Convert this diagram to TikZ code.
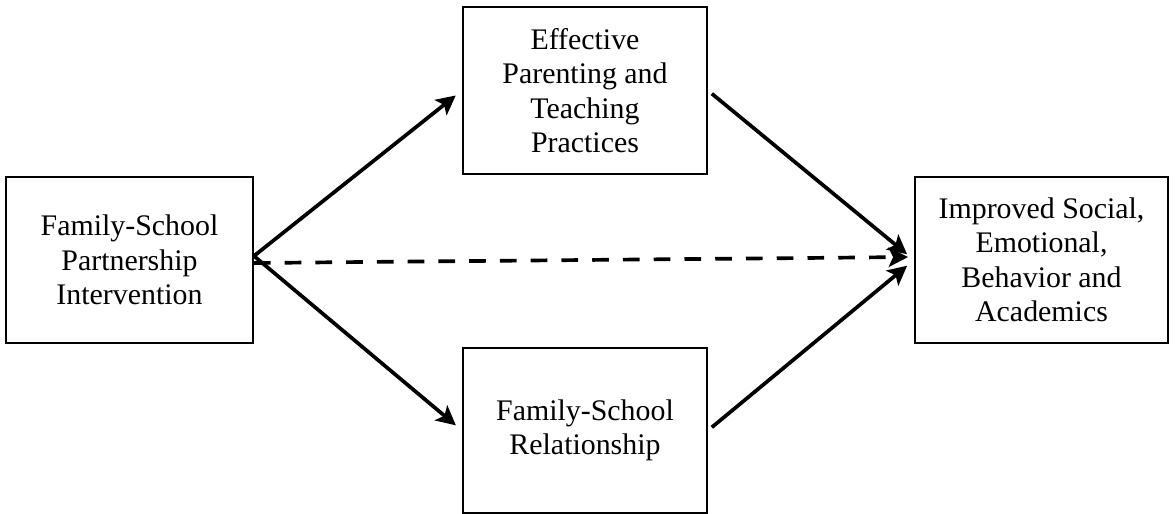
\documentclass[tikz,border=0pt]{standalone}
\usepackage{fontspec}
\setmainfont{Liberation Serif}
\usepackage{tikz}
\usetikzlibrary{arrows.meta}

\begin{document}
\begin{tikzpicture}[node distance=3cm, >={Stealth[length=11pt,width=11pt,inset=2.5pt]},
  boxnode/.style={rectangle, draw, line width=1.1pt, minimum width=4.9cm, minimum height=3.32cm, align=center, font=\fontsize{17}{19.6}\selectfont},
  arrowline/.style={->, line width=2.1pt}]
\useasboundingbox (0,0) rectangle (23.5,-10.28);
\node (fsp) [boxnode, minimum width=4.94cm] at (2.59,-5.2) {Family-School\\Partnership\\Intervention};
\node (ept) [boxnode, minimum width=4.88cm, minimum height=3.34cm, right of=fsp, xshift=6.11cm, yshift=3.39cm] {Effective\\Parenting and\\Teaching\\Practices};
\node (fsr) [boxnode, minimum width=4.88cm, minimum height=3.3cm, below of=ept, yshift=-3.8cm] {Family-School\\Relationship};
\node (iso) [boxnode, minimum width=5.06cm, right of=ept, xshift=6.13cm, yshift=-3.39cm] {Improved Social,\\Emotional,\\Behavior and\\Academics};
\draw[arrowline, shorten >=0.16cm] ([yshift=0.08cm]fsp.east) -- (ept.west);
\draw[arrowline, shorten >=0.16cm] ([yshift=0.08cm]fsp.east) -- (fsr.west);
\draw[arrowline, shorten <=0.1cm, shorten >=0.18cm] (ept.east) -- (iso.west);
\draw[arrowline, shorten <=0.1cm, shorten >=0.18cm] (fsr.east) -- (iso.west);
\draw[arrowline, dash pattern=on 9.5pt off 8pt, shorten >=0.12cm] ([yshift=-0.06cm]fsp.east) -- ([yshift=0.06cm]iso.west);
\end{tikzpicture}
\end{document}
